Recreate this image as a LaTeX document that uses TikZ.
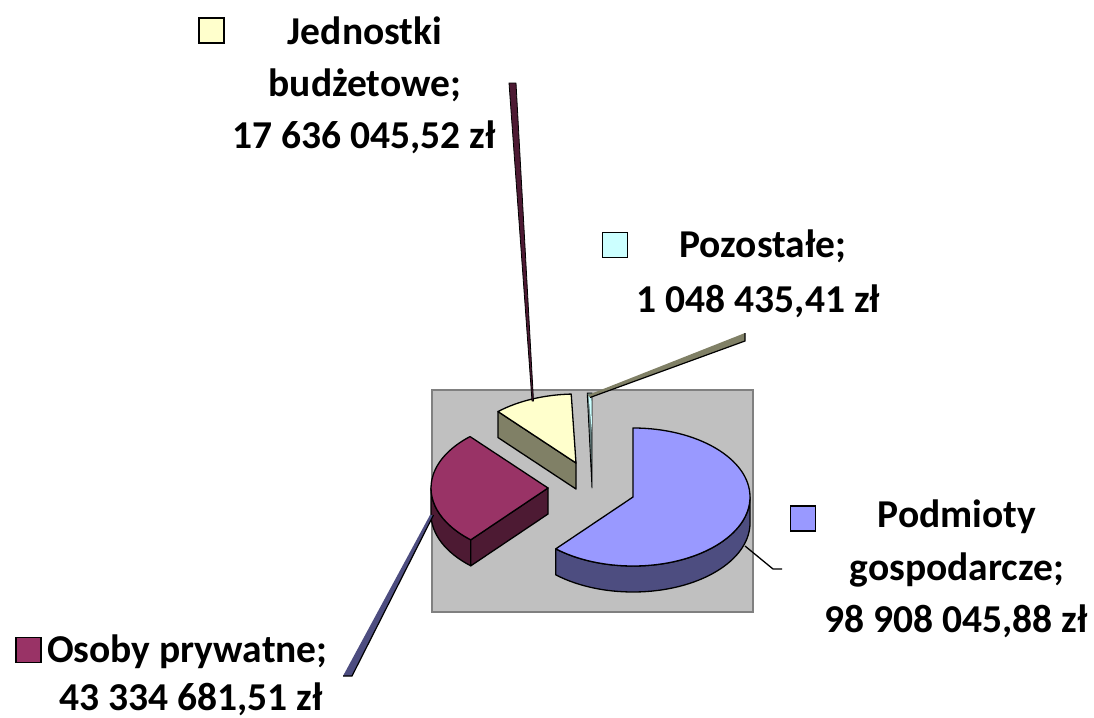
\documentclass[tikz,border=0pt]{standalone}
\usepackage{fontspec}
\setmainfont{Carlito}
\usetikzlibrary{calc}
\definecolor{pieblue}{HTML}{9999FF}
\definecolor{pieblueside}{HTML}{4D4D80}
\definecolor{piemaroon}{HTML}{993366}
\definecolor{piemaroonside}{HTML}{4D1A33}
\definecolor{pieyellow}{HTML}{FFFFCC}
\definecolor{pieyellowside}{HTML}{808066}
\definecolor{piecyan}{HTML}{CCFFFF}
\definecolor{piecyanside}{HTML}{668080}
\definecolor{plotgray}{HTML}{C0C0C0}
\definecolor{plotedge}{HTML}{808080}
\begin{document}
\begin{tikzpicture}[x=1pt,y=-1pt,
  edge/.style={draw=black,line width=1.3pt,line join=round},
  er/.style={x radius=117pt,y radius=69pt},
  lbl/.style={inner sep=0pt,anchor=base,font=\fontsize{39.5}{46}\selectfont\bfseries},
  keybox/.style={draw=black,line width=1.6pt,minimum width=25pt,minimum height=25pt,inner sep=0pt},
  leader/.style={draw=black,line width=0.8pt,line join=round}]
\useasboundingbox (0,0) rectangle (1094,717);

% plot area
\draw[draw=plotedge,line width=2.5pt,fill=plotgray] (432,390) rectangle (753,612);

% slice centres
\coordinate (B) at (633,497);
\coordinate (M) at (548,488);
\coordinate (Y) at (576,463);
\coordinate (C) at (592,462);

% Jednostki budzetowe (yellow)
\draw[edge,fill=pieyellowside] (Y) -- ($(Y)+(131.8:117pt and 69pt)$) -- ++(0,26) -- ($(Y)+(0,26)$) -- cycle;
\draw[edge,fill=pieyellow] (Y) -- ($(Y)+(131.8:117pt and 69pt)$) arc[er,start angle=131.8,end angle=92.35] -- cycle;

% Pozostale (cyan)
\draw[edge,line width=0.9pt,fill=piecyanside] ($(C)+(92.35:117pt and 69pt)$) -- ($(C)+(90:117pt and 69pt)$) -- ($(C)+(0,26)$) -- cycle;
\fill[piecyan] ($(C)+(91.8:112pt and 66pt)$) -- ($(C)+(90.3:112pt and 66pt)$) -- ($(C)+(0,-30)$) -- cycle;

% Osoby prywatne (maroon)
\draw[edge,fill=piemaroonside] ($(M)+(180:117pt and 69pt)$) arc[er,start angle=180,end angle=228.7] -- ++(0,26) arc[er,start angle=228.7,end angle=180] -- cycle;
\draw[edge,fill=piemaroonside] (M) -- ($(M)+(228.7:117pt and 69pt)$) -- ++(0,26) -- ($(M)+(0,26)$) -- cycle;
\draw[edge,fill=piemaroon] (M) -- ($(M)+(228.7:117pt and 69pt)$) arc[er,start angle=228.7,end angle=131.8] -- cycle;

% Podmioty gospodarcze (blue)
\draw[edge,fill=pieblueside] ($(B)+(0:117pt and 69pt)$) arc[er,start angle=0,end angle=-131.3] -- ++(0,26) arc[er,start angle=-131.3,end angle=0] -- cycle;
\draw[edge,fill=pieblue] (B) -- ($(B)+(90:117pt and 69pt)$) arc[er,start angle=90,end angle=-131.3] -- cycle;

% leader lines
\coordinate (jA) at (509,83);
\coordinate (jB) at (516,83);
\coordinate (jC) at (533.5,401);
\coordinate (jD) at (532,401);
\draw[leader,fill=piemaroonside] (jA) -- (jB) -- (jC) -- (jD) -- cycle;

\coordinate (pA) at (588,395);
\coordinate (pB) at (745,333);
\coordinate (pC) at (745,341);
\coordinate (pD) at (590,397.5);
\fill[pieyellowside] (pA) -- (pB) -- (pC) -- (pD) -- cycle;
\draw[black,line width=1.2pt] (pD) -- (pC) -- (pB);

\coordinate (oA) at (430,515);
\coordinate (oB) at (433.5,515);
\coordinate (oC) at (352,676);
\coordinate (oD) at (343,676);
\fill[pieblueside] (oA) -- (oB) -- (oC) -- (oD) -- cycle;
\draw[black,line width=1.2pt] (oB) -- (oC) -- (oD);

\coordinate (bA) at (745,546);
\coordinate (bB) at (773,569);
\coordinate (bC) at (782,569);
\draw[black,line width=1.3pt] (bA) -- (bB) -- (bC);

% labels
\node[keybox,fill=pieyellow] (jk) at (211.5,30.5) {};
\node[lbl] (j1) at (365,45) {Jednostki};
\node[lbl] (j2) at (365,96.5) {budżetowe;};
\node[lbl] (j3) at (364,148) {17 636 045,52 zł};

\node[keybox,fill=piecyan] (pk) at (615,245) {};
\node[lbl] (p1) at (763,257) {Pozostałe;};
\node[lbl] (p2) at (758.5,312) {1 048 435,41 zł};

\node[keybox,fill=pieblue] (bk) at (803,518.5) {};
\node[lbl] (b1) at (957,527) {Podmioty};
\node[lbl] (b2) at (957,580) {gospodarcze;};
\node[lbl] (b3) at (956,632) {98 908 045,88 zł};

\node[keybox,fill=piemaroon] (ok) at (28.5,650) {};
\node[lbl,anchor=base west] (o1) at (47,662) {Osoby prywatne;};
\node[lbl] (o2) at (191,710) {43 334 681,51 zł};
\end{tikzpicture}
\end{document}
